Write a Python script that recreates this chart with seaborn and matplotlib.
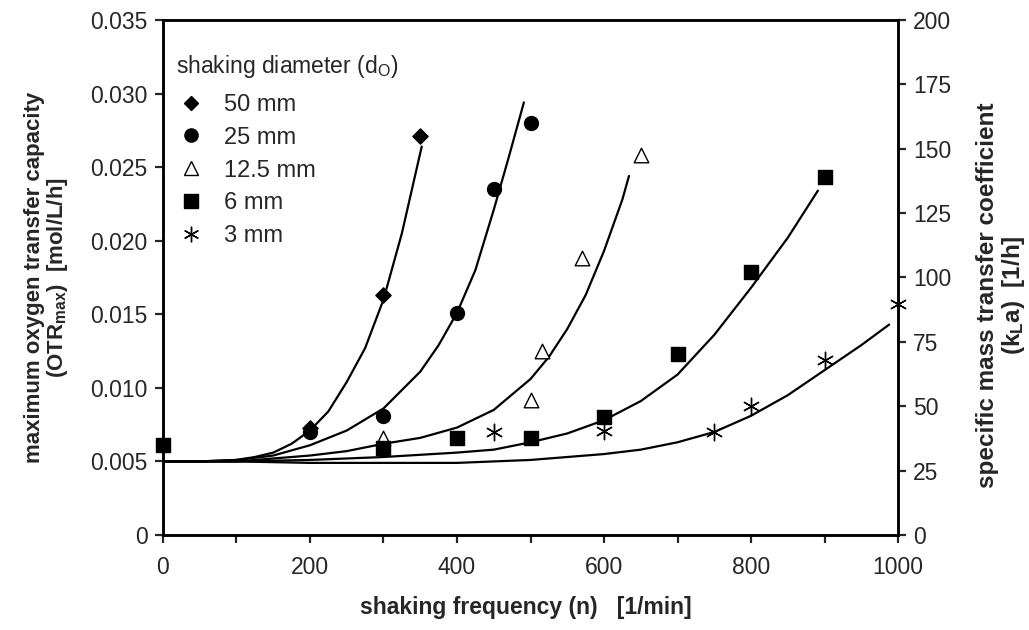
import pandas as pd
import matplotlib
matplotlib.use('Agg')
import matplotlib.pyplot as plt
from matplotlib.lines import Line2D
import seaborn as sns

sns.set_style('ticks')
plt.rcParams['font.family'] = ['Liberation Sans', 'DejaVu Sans']
plt.rcParams['mathtext.fontset'] = 'custom'
plt.rcParams['mathtext.rm'] = 'Liberation Sans'
plt.rcParams['mathtext.it'] = 'Liberation Sans'
plt.rcParams['mathtext.bf'] = 'Liberation Sans:bold'

diameters = ['50 mm', '25 mm', '12.5 mm', '6 mm', '3 mm']

# measured OTRmax values
n_50 = [200, 300, 350]
otr_50 = [0.0073, 0.0163, 0.0271]
n_25 = [200, 300, 400, 450, 500]
otr_25 = [0.0070, 0.0081, 0.0151, 0.0235, 0.0280]
n_12 = [300, 500, 515, 570, 650]
otr_12 = [0.0066, 0.0092, 0.0125, 0.0188, 0.0258]
n_6 = [0, 300, 400, 500, 600, 700, 800, 900]
otr_6 = [0.0061, 0.0059, 0.0066, 0.0066, 0.0080, 0.0123, 0.0179, 0.0243]
n_3 = [450, 600, 750, 800, 900, 1000]
otr_3 = [0.0070, 0.0071, 0.0070, 0.0088, 0.0119, 0.0157]

# model curves
fit_n_50 = [0, 50, 100, 125, 150, 175, 200, 225, 250, 275, 300, 325, 352]
fit_otr_50 = [0.0050, 0.0050, 0.0051, 0.0053, 0.0056, 0.0062, 0.0071, 0.0084,
              0.0104, 0.0127, 0.0160, 0.0205, 0.0264]
fit_n_25 = [0, 50, 100, 150, 200, 250, 300, 350, 375, 400, 425, 450, 470, 491]
fit_otr_25 = [0.0050, 0.0050, 0.0051, 0.0054, 0.0061, 0.0071, 0.0086, 0.0111,
              0.0129, 0.0151, 0.0180, 0.0221, 0.0256, 0.0294]
fit_n_12 = [0, 100, 150, 200, 250, 300, 350, 400, 450, 500, 525, 550, 575,
            600, 625, 634]
fit_otr_12 = [0.0050, 0.0050, 0.0052, 0.0054, 0.0057, 0.0062, 0.0066, 0.0073,
              0.0085, 0.0106, 0.0121, 0.0140, 0.0163, 0.0193, 0.0228, 0.0244]
fit_n_6 = [0, 100, 200, 300, 400, 450, 500, 550, 600, 650, 700, 750, 800, 850,
           891]
fit_otr_6 = [0.0050, 0.0050, 0.0051, 0.0053, 0.0056, 0.0058, 0.0063, 0.0069,
             0.0078, 0.0091, 0.0109, 0.0136, 0.0168, 0.0202, 0.0234]
fit_n_3 = [0, 100, 200, 300, 400, 500, 550, 600, 650, 700, 750, 800, 850, 900,
           950, 988]
fit_otr_3 = [0.0050, 0.0050, 0.0049, 0.0049, 0.0049, 0.0051, 0.0053, 0.0055,
             0.0058, 0.0063, 0.0070, 0.0081, 0.0095, 0.0112, 0.0129, 0.0143]

points = pd.concat([
    pd.DataFrame({'n': n, 'otr': y, 'diameter': d})
    for n, y, d in zip([n_50, n_25, n_12, n_6, n_3],
                       [otr_50, otr_25, otr_12, otr_6, otr_3], diameters)
])
curves = pd.concat([
    pd.DataFrame({'n': n, 'otr': y, 'diameter': d})
    for n, y, d in zip([fit_n_50, fit_n_25, fit_n_12, fit_n_6, fit_n_3],
                       [fit_otr_50, fit_otr_25, fit_otr_12, fit_otr_6, fit_otr_3],
                       diameters)
])

styles = {
    '50 mm': dict(marker='D', s=60, facecolor='black'),
    '25 mm': dict(marker='o', s=100, facecolor='black'),
    '12.5 mm': dict(marker='^', s=110, facecolor='white'),
    '6 mm': dict(marker='s', s=110, facecolor='black'),
    '3 mm': dict(marker=(6, 2, 0), s=140, facecolor='black'),
}

fig = plt.figure(figsize=(10.29, 6.3), dpi=100)
ax = fig.add_axes([0.1584, 0.1508, 0.7143, 0.8175])

for d in diameters:
    sub = curves[curves['diameter'] == d]
    sns.lineplot(data=sub, x='n', y='otr', ax=ax, color='black', lw=1.6,
                 sort=False, estimator=None, legend=False)

for d in diameters:
    sub = points[points['diameter'] == d]
    st = styles[d]
    sns.scatterplot(data=sub, x='n', y='otr', ax=ax, marker=st['marker'],
                    s=st['s'], color=st['facecolor'], edgecolor='black',
                    linewidth=1.0, zorder=5, legend=False, clip_on=False)

ax.set_xlim(0, 1000)
ax.set_ylim(0, 0.035)
ax.set_xticks(range(0, 1001, 200))
ax.set_xticks(range(100, 1000, 200), minor=True)
yt = [0, 0.005, 0.010, 0.015, 0.020, 0.025, 0.030, 0.035]
ax.set_yticks(yt)
ax.set_yticklabels(['0'] + ['%.3f' % v for v in yt[1:]])
ax.tick_params(axis='both', which='both', direction='out', length=6,
               width=1.6, labelsize=16.5, pad=5)
ax.tick_params(axis='x', pad=9)
ax.set_xlabel('shaking frequency (n)   [1/min]', fontsize=16.5,
              fontweight='bold', va='center')
ax.xaxis.set_label_coords(0.494, -0.140)
ax.set_ylabel('maximum oxygen transfer capacity\n'
              r'(OTR$_{\mathbf{max}}$)  [mol/L/h]',
              fontsize=16, fontweight='bold', va='center', linespacing=1.0)
ax.yaxis.set_label_coords(-0.158, 0.5)

ax2 = ax.twinx()
ax2.set_ylim(0, 200)
ax2.set_yticks(range(0, 201, 25))
ax2.tick_params(axis='y', direction='out', length=6, width=1.6,
                labelsize=16.5, pad=5)
ax2.set_ylabel('specific mass transfer coefficient\n'
               r'(k$_{\mathbf{L}}$a)  [1/h]',
               fontsize=17.5, fontweight='bold', rotation=90, va='center',
               linespacing=1.05)
ax2.yaxis.set_label_coords(1.141, 0.466)

for a in (ax, ax2):
    for sp in a.spines.values():
        sp.set_visible(True)
        sp.set_linewidth(1.8)
        sp.set_color('black')

# legend title drawn as plain text, entries as a frameless legend
ax.text(0.0177, 0.9093, r'shaking diameter (d$_\mathrm{O}$)', fontsize=16.5,
        transform=ax.transAxes, ha='left', va='center')
handles = [
    Line2D([], [], linestyle='none', marker=styles[d]['marker'],
           markersize=(styles[d]['s'] ** 0.5) * 0.95,
           markerfacecolor=styles[d]['facecolor'], markeredgecolor='black',
           markeredgewidth=1.0)
    for d in diameters
]
ax.legend(handles, diameters, loc='upper left',
          bbox_to_anchor=(0.0088, 0.875), frameon=False, fontsize=17,
          handlelength=1.0, handletextpad=0.91, labelspacing=0.46,
          borderaxespad=0.0, borderpad=0.4)

fig.savefig('out.png', dpi=100)
